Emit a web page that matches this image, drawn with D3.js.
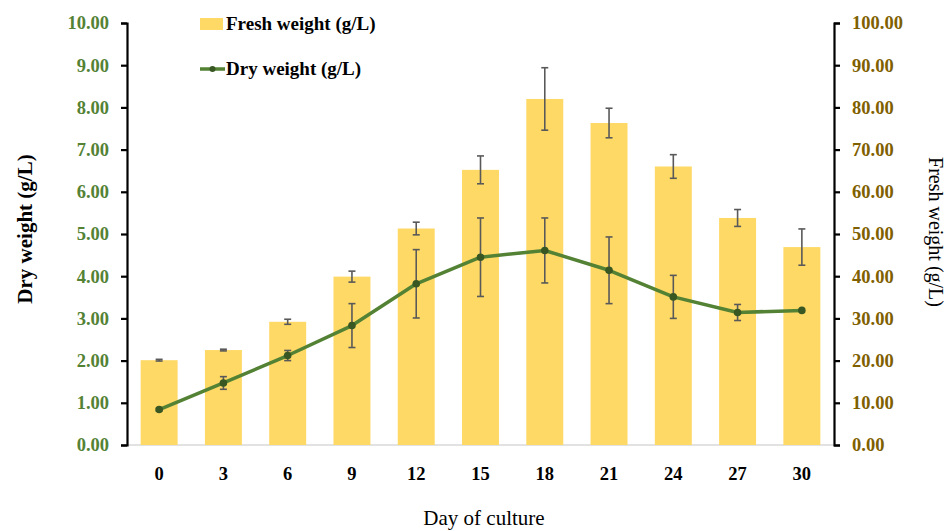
<!DOCTYPE html>
<html>
<head>
<meta charset="utf-8">
<script src="https://cdn.jsdelivr.net/npm/d3@7"></script>
<style>
  body { margin: 0; background: #fff; }
  svg { display: block; font-family: "Liberation Serif", "DejaVu Serif", serif; }
</style>
</head>
<body>
<svg id="chart" width="950" height="531"></svg>
<script>
// data
const days = ['0', '3', '6', '9', '12', '15', '18', '21', '24', '27', '30'];
const freshWeight = [20.1, 22.5, 29.2, 39.9, 51.3, 65.2, 82.0, 76.3, 66.0, 53.8, 46.9];
const freshErr = [0.2, 0.2, 0.6, 1.3, 1.5, 3.3, 7.4, 3.5, 2.8, 2.0, 4.3];
const dryWeight = [0.84, 1.47, 2.12, 2.83, 3.82, 4.45, 4.61, 4.14, 3.51, 3.14, 3.19];
const dryErr = [0.03, 0.15, 0.12, 0.52, 0.81, 0.93, 0.77, 0.79, 0.51, 0.19, 0];
const leftTicks = [0, 1, 2, 3, 4, 5, 6, 7, 8, 9, 10];
const rightTicks = [0, 10, 20, 30, 40, 50, 60, 70, 80, 90, 100];

const margin = { top: 23, right: 116, bottom: 86, left: 127 };
const fullWidth = 950;
const fullHeight = 531;
const width = fullWidth - margin.left - margin.right;
const height = fullHeight - margin.top - margin.bottom;

const svg = d3.select('#chart');
const g = svg.append('g')
  .attr('transform', 'translate(' + margin.left + ',' + margin.top + ')');

const xc = d3.scaleBand().domain(days).range([0, width]);
const yL = d3.scaleLinear().domain([0, 10]).range([height, 0]);
const yR = d3.scaleLinear().domain([0, 100]).range([height, 0]);
const barW = xc.bandwidth() * 0.575;
const cx = k => xc(k) + xc.bandwidth() / 2;

// baseline
g.append('line')
  .attr('x1', 0).attr('x2', width)
  .attr('y1', height).attr('y2', height)
  .attr('stroke', '#d9d9d9').attr('stroke-width', 1.5);

// bars (fresh weight, right axis)
g.selectAll('.bar')
  .data(freshWeight)
  .join('rect')
  .attr('class', 'bar')
  .attr('x', (d, i) => cx(days[i]) - barW / 2)
  .attr('width', barW)
  .attr('y', d => yR(d))
  .attr('height', d => height - yR(d))
  .attr('fill', '#ffd966');

// error bars helper
function errorBars(cls, vals, errs, scale) {
  const eg = g.selectAll('.' + cls)
    .data(vals.map((v, i) => ({ v: v, e: errs[i], k: days[i] })).filter(d => d.e > 0))
    .join('g')
    .attr('class', cls)
    .attr('stroke', '#595959')
    .attr('stroke-width', 1.6);
  eg.append('line')
    .attr('x1', d => cx(d.k))
    .attr('x2', d => cx(d.k))
    .attr('y1', d => scale(d.v - d.e))
    .attr('y2', d => scale(d.v + d.e));
  [-1, 1].forEach(s => {
    eg.append('line')
      .attr('x1', d => cx(d.k) - 3.5)
      .attr('x2', d => cx(d.k) + 3.5)
      .attr('y1', d => scale(d.v + s * d.e))
      .attr('y2', d => scale(d.v + s * d.e));
  });
}
errorBars('ferr', freshWeight, freshErr, yR);

// dry weight line
const line = d3.line()
  .x((d, i) => cx(days[i]))
  .y(d => yL(d));
g.append('path')
  .datum(dryWeight)
  .attr('d', line)
  .attr('fill', 'none')
  .attr('stroke', '#548235')
  .attr('stroke-width', 3.5)
  .attr('stroke-linejoin', 'round');

errorBars('derr', dryWeight, dryErr, yL);

g.selectAll('.dot')
  .data(dryWeight)
  .join('circle')
  .attr('class', 'dot')
  .attr('cx', (d, i) => cx(days[i]))
  .attr('cy', d => yL(d))
  .attr('r', 3.8)
  .attr('fill', '#385723');

function styleTicks(sel, color) {
  sel.select('.domain').attr('stroke', '#000').attr('stroke-width', 2.2);
  sel.selectAll('.tick line').attr('stroke', '#000').attr('stroke-width', 2.2);
  sel.selectAll('.tick text')
    .attr('fill', color)
    .style('font-size', '18.5px')
    .style('font-weight', 'bold')
    .style('font-family', '"Liberation Serif", serif');
}

// left axis
const leftAxis = g.append('g')
  .call(d3.axisLeft(yL).tickValues(leftTicks).tickFormat(d3.format('.2f')).tickSize(6).tickSizeOuter(6).tickPadding(12));
styleTicks(leftAxis, '#548235');

// right axis
const rightAxis = g.append('g')
  .attr('transform', 'translate(' + width + ',0)')
  .call(d3.axisRight(yR).tickValues(rightTicks).tickFormat(d3.format('.2f')).tickSize(6).tickSizeOuter(6).tickPadding(12));
styleTicks(rightAxis, '#7f6000');

// x axis labels
const xAxis = g.append('g')
  .attr('transform', 'translate(0,' + height + ')')
  .call(d3.axisBottom(xc).tickSize(0).tickPadding(22));
xAxis.select('.domain').remove();
xAxis.selectAll('.tick text')
  .attr('fill', '#000')
  .style('font-size', '18.5px')
  .style('font-weight', 'bold')
  .style('font-family', '"Liberation Serif", serif');

// axis titles
svg.append('text')
  .attr('transform', 'translate(32,229) rotate(-90)')
  .attr('text-anchor', 'middle')
  .style('font-size', '21px')
  .style('font-weight', 'bold')
  .text('Dry weight (g/L)');

svg.append('text')
  .attr('transform', 'translate(929,232) rotate(90)')
  .attr('text-anchor', 'middle')
  .style('font-size', '20px')
  .text('Fresh weight (g/L)');

svg.append('text')
  .attr('x', 484)
  .attr('y', 525)
  .attr('text-anchor', 'middle')
  .style('font-size', '21px')
  .text('Day of culture');

// legend
const legend = svg.append('g').attr('transform', 'translate(200,0)');
legend.append('rect')
  .attr('x', 0).attr('y', 18).attr('width', 23).attr('height', 12)
  .attr('fill', '#ffd966');
legend.append('text')
  .attr('x', 26).attr('y', 30)
  .style('font-size', '19px').style('font-weight', 'bold')
  .text('Fresh weight (g/L)');
legend.append('line')
  .attr('x1', 0).attr('x2', 25).attr('y1', 69).attr('y2', 69)
  .attr('stroke', '#548235').attr('stroke-width', 3.5);
legend.append('circle')
  .attr('cx', 12.5).attr('cy', 69).attr('r', 3)
  .attr('fill', '#385723');
legend.append('text')
  .attr('x', 26).attr('y', 75)
  .style('font-size', '19px').style('font-weight', 'bold')
  .text('Dry weight (g/L)');
</script>
</body>
</html>
